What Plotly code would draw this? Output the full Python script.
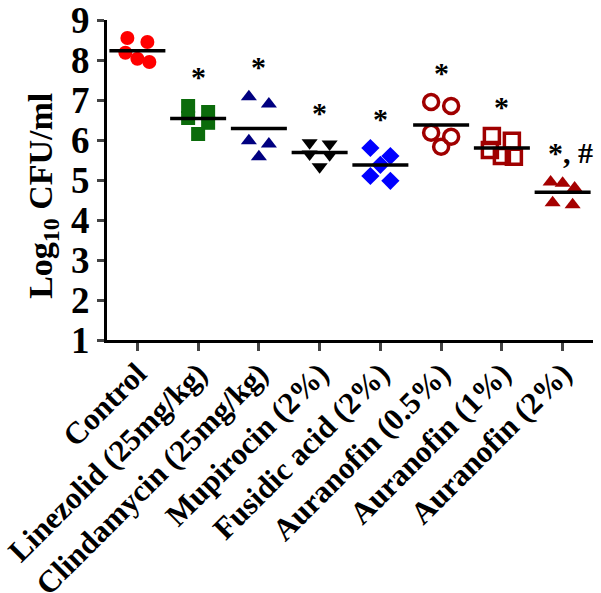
"""
Log10 CFU/ml scatter-dot plot per treatment group
"""

import plotly.graph_objects as go

groups = [
    "Control",
    "Linezolid (25mg/kg)",
    "Clindamycin (25mg/kg)",
    "Mupirocin (2%)",
    "Fusidic acid (2%)",
    "Auranofin (0.5%)",
    "Auranofin (1%)",
    "Auranofin (2%)",
]

control = [8.55, 8.45, 8.18, 8.03, 7.95]
linezolid = [6.85, 6.70, 6.55, 6.43, 6.15]
clindamycin = [7.08, 6.90, 5.98, 5.90, 5.58]
mupirocin = [5.93, 5.90, 5.65, 5.63, 5.33]
fusidic = [5.80, 5.60, 5.38, 5.10, 4.98]
aur_05 = [6.95, 6.85, 6.18, 6.08, 5.83]
aur_1 = [6.10, 5.98, 5.75, 5.60, 5.58]
aur_2 = [4.95, 4.92, 4.80, 4.43, 4.38]

signif = ["", "*", "*", "*", "*", "*", "*", "*, #"]

values = [control, linezolid, clindamycin, mupirocin, fusidic, aur_05, aur_1, aur_2]

# marker styles per group: (symbol, colour)
styles = [
    ("circle", "#FF0000"),
    ("square", "#0B6B0B"),
    ("triangle-up", "#000080"),
    ("triangle-down", "#000000"),
    ("diamond", "#0000FF"),
    ("circle-open", "#A00000"),
    ("square-open", "#A00000"),
    ("triangle-up", "#A50000"),
]

# pixel scale of the plot area (for the dot spread)
PX_X = 486 / 8.0
PX_Y = 320 / 8.0


def spread(vals, overlap_px=10, gap_px=20):
    """points that would overlap vertically are placed side by side"""
    order = sorted(range(len(vals)), key=lambda i: -vals[i])
    rows = []
    for i in order:
        if rows and (vals[rows[-1][0]] - vals[i]) * PX_Y < overlap_px:
            rows[-1].append(i)
        else:
            rows.append([i])
    offs = [0.0] * len(vals)
    for row in rows:
        n = len(row)
        step = gap_px if n <= 2 else 24 / (n - 1)
        for k, i in enumerate(row):
            offs[i] = (k - (n - 1) / 2) * step / PX_X
    return offs


fig = go.Figure()

for gi, vals in enumerate(values):
    symbol, color = styles[gi]
    offs = spread(vals)
    is_open = symbol.endswith("open")
    fig.add_trace(
        go.Scatter(
            x=[gi + o for o in offs],
            y=vals,
            mode="markers",
            marker=dict(
                symbol=symbol,
                size=15 if is_open else 14,
                color=color,
                line=dict(width=3.5 if is_open else 0, color=color),
            ),
            showlegend=False,
            hoverinfo="y",
        )
    )

# mean lines
means = [sum(v) / len(v) for v in values]
fig.add_trace(
    go.Scatter(
        x=list(range(len(groups))),
        y=means,
        mode="markers",
        marker=dict(symbol="line-ew", size=40, line=dict(width=3.5, color="black")),
        showlegend=False,
        hoverinfo="y",
    )
)

# significance marks above each group
for gi, txt in enumerate(signif):
    if not txt:
        continue
    fig.add_annotation(
        x=gi,
        y=max(values[gi]) + 0.8,
        text=txt,
        showarrow=False,
        xanchor="left" if "#" in txt else "center",
        xshift=-17 if "#" in txt else 0,
        yshift=-2,
        font=dict(family="Liberation Serif", size=30, color="black", weight="bold"),
    )

# y axis title
fig.add_annotation(
    xref="paper",
    yref="y",
    x=-0.132,
    y=4.6,
    xanchor="center",
    yanchor="middle",
    text="Log<sub>10</sub> CFU/ml",
    textangle=-90,
    showarrow=False,
    font=dict(family="Liberation Serif", size=34, color="black", weight="bold"),
)

fig.update_layout(
    width=601,
    height=593,
    margin=dict(l=107, r=8, t=20, b=253),
    plot_bgcolor="white",
    paper_bgcolor="white",
    font=dict(family="Liberation Serif", color="black"),
)

fig.update_xaxes(
    range=[-0.5, 7.5],
    automargin=False,
    ticklabeloverflow="allow",
    ticklabelstandoff=-8,
    tickvals=list(range(len(groups))),
    ticktext=groups,
    tickangle=-45,
    tickfont=dict(family="Liberation Serif", size=31, weight="bold"),
    ticks="outside",
    ticklen=8,
    tickwidth=3,
    showline=True,
    linewidth=3,
    linecolor="black",
    showgrid=False,
    zeroline=False,
)

fig.update_yaxes(
    range=[1, 9],
    dtick=1,
    automargin=False,
    ticklabeloverflow="allow",
    tickfont=dict(family="Liberation Serif", size=37, weight="bold"),
    ticks="outside",
    ticklen=7,
    tickwidth=3,
    showline=True,
    linewidth=3,
    linecolor="black",
    showgrid=False,
    zeroline=False,
)

# page has a default body margin; drop it so the figure sits at the corner
fig.write_html(
    "out.html",
    config={"displayModeBar": False},
    post_script="document.body.style.margin='0';",
)
